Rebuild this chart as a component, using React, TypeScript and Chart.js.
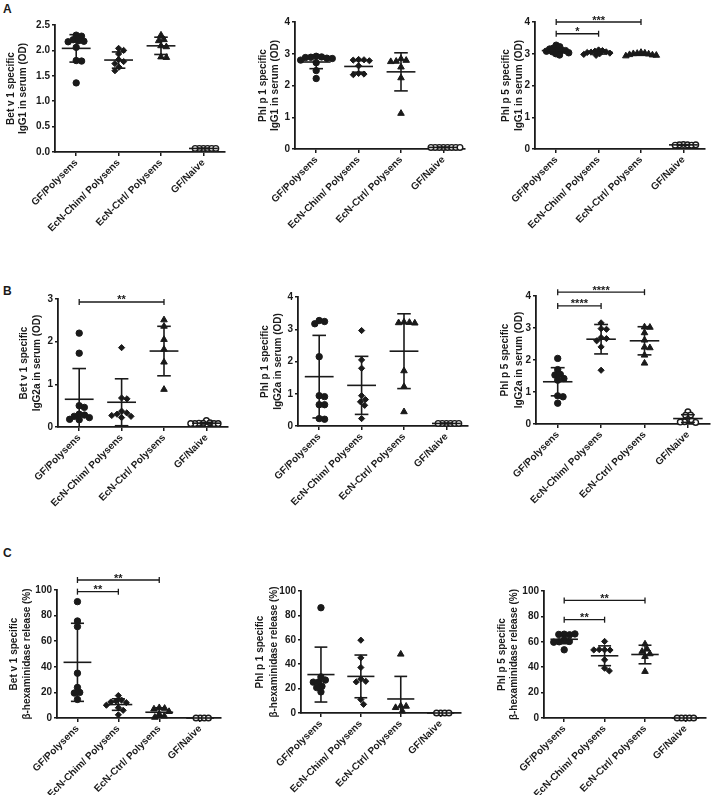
import React, { useEffect, useRef } from "react";
import { Chart, registerables } from "chart.js";

Chart.register(...registerables);

const FONT = "'Liberation Sans', Arial, Helvetica, sans-serif";
const INK = "#1a1a1a";

// ---------- categories ----------
const categories = ["GF/Polysens", "EcN-Chim/ Polysens", "EcN-Ctrl/ Polysens", "GF/Naive"];

// ---------- A: IgG1 in serum (OD) ----------
const a1GF = [2.3, 2.28, 2.21, 2.19, 2.18, 2.17, 2.06, 1.8, 1.79, 1.36];
const a1Chim = [2.04, 2.0, 1.93, 1.82, 1.78, 1.74, 1.67, 1.6];
const a1Ctrl = [2.3, 2.21, 2.19, 2.09, 2.07, 1.87, 1.86];
const a1Naive = [0.07, 0.07, 0.07, 0.07, 0.07, 0.07];
const a1Mean = [2.04, 1.81, 2.09, 0.07];
const a1SD = [0.27, 0.16, 0.17, 0.004];

const a2GF = [2.92, 2.9, 2.89, 2.88, 2.86, 2.85, 2.8, 2.72, 2.47, 2.22];
const a2Chim = [2.82, 2.81, 2.8, 2.78, 2.62, 2.38, 2.36, 2.34];
const a2Ctrl = [2.84, 2.79, 2.76, 2.75, 2.58, 2.24, 1.12];
const a2Naive = [0.05, 0.05, 0.05, 0.05, 0.05, 0.05, 0.05, 0.05];
const a2Mean = [2.74, 2.6, 2.43, 0.05];
const a2SD = [0.21, 0.18, 0.6, 0.004];

const a3GF = [3.27, 3.22, 3.18, 3.15, 3.12, 3.11, 3.1, 3.08, 3.06, 3.03, 3.0, 2.96];
const a3Chim = [3.12, 3.1, 3.08, 3.06, 3.05, 3.04, 3.02, 3.0, 2.98, 2.95];
const a3Ctrl = [3.04, 3.02, 3.01, 3.0, 2.99, 2.97, 2.96, 2.95, 2.93];
const a3Naive = [0.14, 0.13, 0.13, 0.12, 0.12, 0.13];
const a3Mean = [3.1, 3.04, 2.98, 0.13];
const a3SD = [0.08, 0.05, 0.03, 0.01];

// ---------- B: IgG2a in serum (OD) ----------
const b1GF = [2.2, 1.73, 0.5, 0.46, 0.3, 0.28, 0.25, 0.22, 0.18, 0.17];
const b1Chim = [1.86, 0.68, 0.66, 0.37, 0.33, 0.3, 0.27, 0.25, 0.22];
const b1Ctrl = [2.51, 2.36, 2.05, 1.82, 1.52, 0.88];
const b1Naive = [0.15, 0.1, 0.09, 0.09, 0.08, 0.08, 0.08, 0.08];
const b1Mean = [0.65, 0.58, 1.78, 0.09];
const b1SD = [0.72, 0.55, 0.58, 0.02];

const b2GF = [3.27, 3.24, 3.17, 2.15, 0.94, 0.91, 0.66, 0.66, 0.23, 0.21];
const b2Chim = [2.96, 2.05, 1.79, 0.94, 0.82, 0.75, 0.64, 0.23];
const b2Ctrl = [3.22, 3.21, 3.2, 3.19, 1.71, 1.22, 0.44];
const b2Naive = [0.08, 0.08, 0.08, 0.08, 0.08, 0.08];
const b2Mean = [1.53, 1.26, 2.32, 0.08];
const b2SD = [1.28, 0.9, 1.16, 0.01];

const b3GF = [2.05, 1.7, 1.55, 1.53, 1.42, 1.37, 0.88, 0.85, 0.65];
const b3Chim = [3.16, 2.98, 2.96, 2.7, 2.67, 2.6, 2.41, 1.68];
const b3Ctrl = [3.03, 3.02, 2.85, 2.62, 2.4, 2.38, 2.15, 1.9];
const b3Naive = [0.38, 0.28, 0.27, 0.14, 0.1, 0.07, 0.06, 0.05];
const b3Mean = [1.32, 2.65, 2.6, 0.17];
const b3SD = [0.44, 0.46, 0.44, 0.12];

// ---------- C: beta-hexaminidase release (%) ----------
const c1GF = [90.9, 75.8, 71.4, 35.0, 23.9, 20.0, 19.5, 14.5];
const c1Chim = [17.5, 14.0, 13.2, 12.5, 12.0, 10.0, 8.0, 6.0, 2.5];
const c1Ctrl = [8.0, 7.5, 7.0, 5.0, 3.0, 1.5, 0.5];
const c1Naive = [0, 0, 0, 0];
const c1Mean = [43.5, 10.5, 4.5, 0];
const c1SD = [30.5, 4.5, 3.5, 0];

const c2GF = [86.3, 29.6, 27.0, 25.5, 25.3, 21.9, 20.8, 17.3];
const c2Chim = [59.7, 45.2, 37.3, 27.9, 26.0, 25.5, 11.0, 7.1];
const c2Ctrl = [48.2, 5.8, 5.5, 4.4, 1.5];
const c2Naive = [0, 0, 0, 0];
const c2Mean = [31.5, 30.0, 11.5, 0];
const c2SD = [22.5, 17.5, 18.5, 0];

const c3GF = [66.0, 65.5, 65.8, 66.2, 61.6, 60.3, 60.0, 59.7, 53.7];
const c3Chim = [60.3, 53.7, 53.5, 53.9, 53.6, 45.8, 39.2, 37.1];
const c3Ctrl = [58.2, 54.2, 52.4, 50.5, 48.4, 36.6];
const c3Naive = [0, 0, 0, 0, 0];
const c3Mean = [62.0, 49.0, 50.0, 0];
const c3SD = [3.5, 7.8, 7.3, 0];

// ---------- significance brackets ----------
type Bracket = { from: number; to: number; y: number; label: string };
const a3Brackets: Bracket[] = [
  { from: 0, to: 1, y: 3.63, label: "*" },
  { from: 0, to: 2, y: 4.0, label: "***" },
];
const b1Brackets: Bracket[] = [{ from: 0, to: 2, y: 2.93, label: "**" }];
const b3Brackets: Bracket[] = [
  { from: 0, to: 1, y: 3.69, label: "****" },
  { from: 0, to: 2, y: 4.12, label: "****" },
];
const c1Brackets: Bracket[] = [
  { from: 0, to: 1, y: 98.7, label: "**" },
  { from: 0, to: 2, y: 107.8, label: "**" },
];
const c3Brackets: Bracket[] = [
  { from: 0, to: 1, y: 77.4, label: "**" },
  { from: 0, to: 2, y: 92.6, label: "**" },
];

// ---------- axis titles ----------
const titleIgG1 = "IgG1 in serum (OD)";
const titleIgG2a = "IgG2a in serum (OD)";
const titleHex = "\u03b2-hexaminidase release (%)";

type Geom = { x0: number; x1: number; yTop: number; yBot: number; t1: number; t2: number };
type Panel = {
  values: number[][];
  means: number[];
  sds: number[];
  yMax: number;
  yStep: number;
  decimals: number;
  title: string[];
  brackets: Bracket[];
  geom: Geom;
  gapScale?: number;
};

const panels: Panel[] = [
  { values: [a1GF, a1Chim, a1Ctrl, a1Naive], means: a1Mean, sds: a1SD, yMax: 2.5, yStep: 0.5, decimals: 1,
    title: ["Bet v 1 specific", titleIgG1], brackets: [], geom: { x0: 55, x1: 227, yTop: 25, yBot: 152, t1: 44, t2: 32 } },
  { values: [a2GF, a2Chim, a2Ctrl, a2Naive], means: a2Mean, sds: a2SD, yMax: 4, yStep: 1, decimals: 0,
    title: ["Phl p 1 specific", titleIgG1], brackets: [], geom: { x0: 295, x1: 467, yTop: 22, yBot: 149, t1: 32, t2: 20 } },
  { values: [a3GF, a3Chim, a3Ctrl, a3Naive], means: a3Mean, sds: a3SD, yMax: 4, yStep: 1, decimals: 0,
    title: ["Phl p 5 specific", titleIgG1], brackets: a3Brackets, geom: { x0: 535, x1: 707, yTop: 22, yBot: 149, t1: 29, t2: 16 },
    gapScale: 0.72 },
  { values: [b1GF, b1Chim, b1Ctrl, b1Naive], means: b1Mean, sds: b1SD, yMax: 3, yStep: 1, decimals: 0,
    title: ["Bet v 1 specific", titleIgG2a], brackets: b1Brackets, geom: { x0: 58, x1: 230, yTop: 299, yBot: 427, t1: 34, t2: 21 } },
  { values: [b2GF, b2Chim, b2Ctrl, b2Naive], means: b2Mean, sds: b2SD, yMax: 4, yStep: 1, decimals: 0,
    title: ["Phl p 1 specific", titleIgG2a], brackets: [], geom: { x0: 298, x1: 470, yTop: 297, yBot: 426, t1: 33, t2: 20 } },
  { values: [b3GF, b3Chim, b3Ctrl, b3Naive], means: b3Mean, sds: b3SD, yMax: 4, yStep: 1, decimals: 0,
    title: ["Phl p 5 specific", titleIgG2a], brackets: b3Brackets, geom: { x0: 536, x1: 712, yTop: 296, yBot: 424, t1: 31, t2: 17 } },
  { values: [c1GF, c1Chim, c1Ctrl, c1Naive], means: c1Mean, sds: c1SD, yMax: 100, yStep: 20, decimals: 0,
    title: ["Bet v 1 specific", titleHex], brackets: c1Brackets, geom: { x0: 57, x1: 223, yTop: 590, yBot: 718, t1: 43, t2: 30 } },
  { values: [c2GF, c2Chim, c2Ctrl, c2Naive], means: c2Mean, sds: c2SD, yMax: 100, yStep: 20, decimals: 0,
    title: ["Phl p 1 specific", titleHex], brackets: [], geom: { x0: 301, x1: 463, yTop: 591, yBot: 713, t1: 41, t2: 27 } },
  { values: [c3GF, c3Chim, c3Ctrl, c3Naive], means: c3Mean, sds: c3SD, yMax: 100, yStep: 20, decimals: 0,
    title: ["Phl p 5 specific", titleHex], brackets: c3Brackets, geom: { x0: 544, x1: 708, yTop: 591, yBot: 718, t1: 42, t2: 30 } },
];

const panelLetters = [
  { text: "A", left: 3, top: 3 },
  { text: "B", left: 3, top: 285 },
  { text: "C", left: 3, top: 547 },
];

// layout constants
const YW = 60; // y-axis box width
const PT = 32; // top padding (room for brackets)
const PR = 3; // right padding
const XH = 92; // x-axis box height

const groupStyles = [
  { pointStyle: "circle", radius: 3.2, bg: INK, border: INK, bw: 1, gap: 5.5, scalable: true },
  { pointStyle: "rectRot", radius: 3.1, bg: INK, border: INK, bw: 1, gap: 5.5, scalable: true },
  { pointStyle: "triangle", radius: 3.8, bg: INK, border: INK, bw: 1, gap: 5.5, scalable: true },
  { pointStyle: "circle", radius: 2.8, bg: "#ffffff", border: INK, bw: 1.4, gap: 4.2, scalable: false },
];

// simple beeswarm: horizontal offsets (in category units) so points don't pile up
function swarm(values: number[], pxPerCat: number, pxPerY: number, gap: number): number[] {
  const placed: { x: number; y: number }[] = [];
  const out: number[] = [];
  const D2 = gap * gap;
  values.forEach((v) => {
    const y = v * pxPerY;
    const cands: number[] = [0];
    placed.forEach((p) => {
      const dy = Math.abs(p.y - y);
      if (dy < gap) {
        const dx = Math.sqrt(D2 - dy * dy);
        cands.push(p.x + dx, p.x - dx);
      }
    });
    cands.sort((a, b) => Math.abs(a) - Math.abs(b) || b - a);
    const x = cands.find((c) => placed.every((p) => (p.x - c) ** 2 + (p.y - y) ** 2 >= D2 - 0.01)) ?? 0;
    placed.push({ x, y });
    out.push(x / pxPerCat);
  });
  return out;
}

function line(ctx: CanvasRenderingContext2D, x1: number, y1: number, x2: number, y2: number) {
  ctx.beginPath();
  ctx.moveTo(x1, y1);
  ctx.lineTo(x2, y2);
  ctx.stroke();
}

function makeOverlay(p: Panel) {
  return {
    id: "overlay",
    afterDatasetsDraw(chart: any) {
      const ctx: CanvasRenderingContext2D = chart.ctx;
      const xs = chart.scales.x;
      const ys = chart.scales.y;
      const area = chart.chartArea;
      ctx.save();
      ctx.strokeStyle = INK;
      ctx.fillStyle = INK;
      ctx.lineWidth = 1.6;
      // mean +/- SD
      p.means.forEach((m, i) => {
        const cx = xs.getPixelForValue(i);
        const hwMean = xs.getPixelForValue(i + 0.34) - cx;
        const hwCap = xs.getPixelForValue(i + 0.16) - cx;
        const ym = ys.getPixelForValue(m);
        line(ctx, cx - hwMean, ym, cx + hwMean, ym);
        const sd = p.sds[i];
        if (sd > 0) {
          const yt = ys.getPixelForValue(m + sd);
          const lowVal = m - sd;
          const yb = ys.getPixelForValue(Math.max(0, lowVal));
          line(ctx, cx, yt, cx, yb);
          line(ctx, cx - hwCap, yt, cx + hwCap, yt);
          if (lowVal >= 0) line(ctx, cx - hwCap, yb, cx + hwCap, yb);
        }
      });
      // brackets
      ctx.lineWidth = 1.3;
      ctx.font = `bold 11px ${FONT}`;
      ctx.textAlign = "center";
      ctx.textBaseline = "alphabetic";
      p.brackets.forEach((b) => {
        const xa = xs.getPixelForValue(b.from);
        const xb = xs.getPixelForValue(b.to);
        const y = ys.getPixelForValue(b.y);
        line(ctx, xa, y, xb, y);
        line(ctx, xa, y - 3, xa, y + 3);
        line(ctx, xb, y - 3, xb, y + 3);
        ctx.fillText(b.label, (xa + xb) / 2, y + 1.5);
      });
      // y-axis title (two lines)
      ctx.font = `bold 10px ${FONT}`;
      ctx.textBaseline = "middle";
      const midY = (area.top + area.bottom) / 2;
      const offs = [p.geom.t1, p.geom.t2];
      p.title.forEach((t, i) => {
        ctx.save();
        ctx.translate(area.left - offs[i], midY);
        ctx.rotate(-Math.PI / 2);
        ctx.fillText(t, 0, 0);
        ctx.restore();
      });
      ctx.restore();
    },
  };
}

function PanelChart({ p }: { p: Panel }) {
  const ref = useRef<HTMLCanvasElement>(null);
  const { x0, x1, yTop, yBot } = p.geom;
  const left = x0 - YW;
  const top = yTop - PT;
  const width = x1 + PR - left;
  const height = yBot + XH - top;

  useEffect(() => {
    const pxPerCat = (x1 - x0) / 4;
    const pxPerY = (yBot - yTop) / p.yMax;
    const datasets = p.values.map((vals, gi) => {
      const st = groupStyles[gi];
      const gap = st.gap * (st.scalable ? p.gapScale ?? 1 : 1);
      const off = swarm(vals, pxPerCat, pxPerY, gap);
      return {
        label: categories[gi],
        data: vals.map((v, k) => ({ x: gi + off[k], y: v })),
        pointStyle: st.pointStyle as any,
        pointRadius: st.radius,
        pointBackgroundColor: st.bg,
        pointBorderColor: st.border,
        pointBorderWidth: st.bw,
        showLine: false,
        clip: false as any,
      };
    });
    const tickFont = { family: FONT, size: 10, weight: "bold" as const };
    const chart = new Chart(ref.current as HTMLCanvasElement, {
      type: "scatter",
      data: { datasets },
      options: {
        animation: false,
        responsive: false,
        maintainAspectRatio: false,
        devicePixelRatio: 1,
        layout: { padding: { top: PT, left: 0, right: PR, bottom: 0 } },
        plugins: { legend: { display: false }, tooltip: { enabled: false } },
        events: [],
        scales: {
          x: {
            type: "linear",
            min: -0.5,
            max: 3.5,
            afterBuildTicks: (s: any) => {
              s.ticks = [0, 1, 2, 3].map((v) => ({ value: v }));
            },
            afterFit: (s: any) => {
              s.height = XH;
            },
            grid: { drawOnChartArea: false, drawTicks: true, tickLength: 4, color: INK, lineWidth: 1.5 },
            border: { display: true, color: INK, width: 1.8 },
            ticks: {
              autoSkip: false,
              minRotation: 45,
              maxRotation: 45,
              padding: 1,
              color: INK,
              font: tickFont,
              callback: (v: any) => categories[Number(v)] ?? "",
            },
          },
          y: {
            type: "linear",
            min: 0,
            max: p.yMax,
            afterFit: (s: any) => {
              s.width = YW;
            },
            grid: { drawOnChartArea: false, drawTicks: true, tickLength: 3, color: INK, lineWidth: 1.5 },
            border: { display: true, color: INK, width: 1.8 },
            ticks: {
              stepSize: p.yStep,
              padding: 2,
              color: INK,
              font: tickFont,
              callback: (v: any) => Number(v).toFixed(p.decimals),
            },
          },
        },
      } as any,
      plugins: [makeOverlay(p)],
    });
    return () => chart.destroy();
  }, []);

  return (
    <canvas
      ref={ref}
      width={width}
      height={height}
      style={{ position: "absolute", left, top, width, height }}
    />
  );
}

export default function App() {
  return (
    <div
      style={{
        position: "absolute",
        left: 0,
        top: 0,
        width: 715,
        height: 795,
        overflow: "hidden",
        background: "#ffffff",
        fontFamily: FONT,
      }}
    >
      {panelLetters.map((l) => (
        <div
          key={l.text}
          style={{
            position: "absolute",
            left: l.left,
            top: l.top,
            fontSize: 12,
            lineHeight: "12px",
            fontWeight: "bold",
            color: INK,
          }}
        >
          {l.text}
        </div>
      ))}
      {panels.map((p, i) => (
        <PanelChart key={i} p={p} />
      ))}
    </div>
  );
}
